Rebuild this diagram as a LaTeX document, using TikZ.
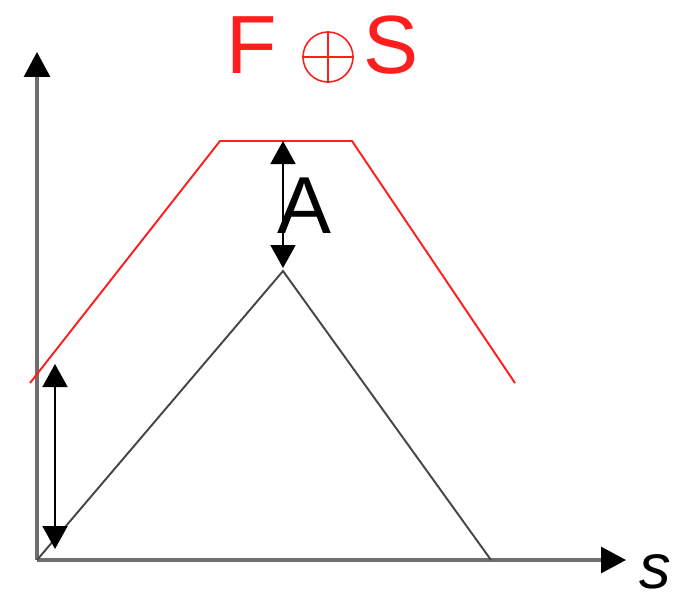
\documentclass[tikz,border=0pt]{standalone}
\usepackage{fontspec}
\setmainfont{Liberation Sans}
\usetikzlibrary{arrows.meta, positioning}
\definecolor{curvered}{RGB}{255, 30, 30}
\definecolor{axisgray}{RGB}{110, 110, 110}
\definecolor{linegray}{RGB}{70, 70, 70}

\begin{document}
\begin{tikzpicture}[x=0.02cm, y=-0.02cm,
    axis/.style={draw=axisgray, line width=1.8pt, -{Triangle[length=0.5cm, width=0.52cm, color=black]}},
    measure/.style={draw=black, line width=1pt, {Triangle[length=0.46cm, width=0.5cm]}-{Triangle[length=0.46cm, width=0.5cm]}},
    bigtext/.style={inner sep=0pt, font=\fontsize{47}{50}\selectfont}]
    \useasboundingbox (0,0) rectangle (679,599);

    % axes
    \coordinate (O) at (37,560);
    \coordinate (ytop) at (37,52);
    \coordinate (xend) at (626,560);
    \draw[axis] (O) -- (ytop);
    \draw[axis] (O) -- (xend);
    \node[inner sep=0pt, font=\fontsize{36}{40}\selectfont\itshape] (s) at (655,572) {s};

    % black triangle
    \coordinate (peak) at (283,271);
    \coordinate (tend) at (491,560);
    \draw[linegray, line width=1.1pt] (O) -- (peak) -- (tend);

    % red curve
    \coordinate (r1) at (30,383);
    \coordinate (r2) at (220,141);
    \coordinate (r3) at (352,141);
    \coordinate (r4) at (515,383);
    \draw[curvered, line width=1.1pt] (r1) -- (r2) -- (r3) -- (r4);

    % measures
    \coordinate (atop) at (283,141);
    \coordinate (abot) at (283,268);
    \draw[measure] (atop) -- (abot);
    \node[bigtext, font=\fontsize{46}{50}\selectfont] (A) at (304,206) {A};
    \coordinate (ltop) at (55,364);
    \coordinate (lbot) at (55,549);
    \draw[measure] (ltop) -- (lbot);

    % title
    \node[bigtext, text=curvered] (F) at (252,45) {F};
    \node[circle, draw=curvered, line width=0.9pt, minimum size=1.0cm, inner sep=0pt] (plus) at (328,57) {};
    \draw[curvered, line width=0.9pt] (plus.north) -- (plus.south) (plus.west) -- (plus.east);
    \node[bigtext, text=curvered] (S) at (391,45) {S};
\end{tikzpicture}
\end{document}
